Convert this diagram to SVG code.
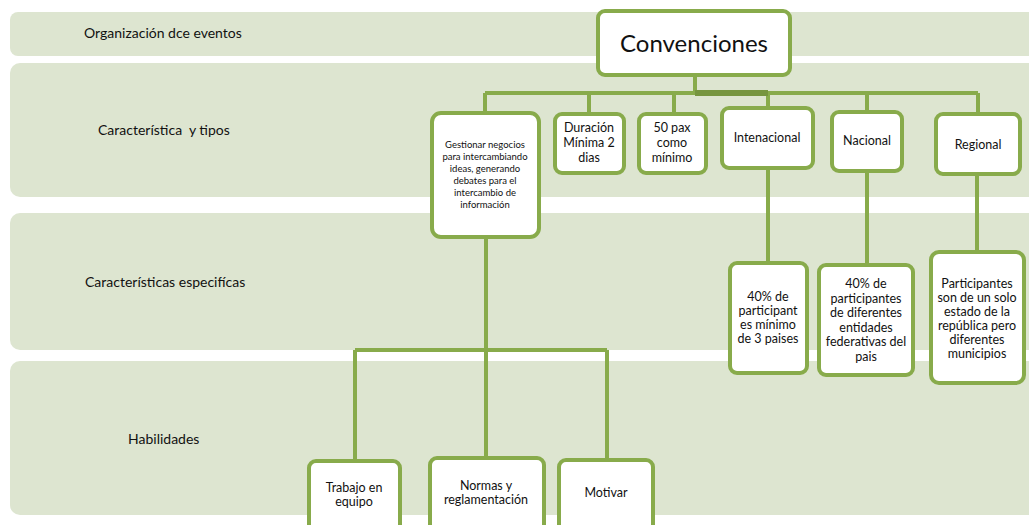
<svg xmlns="http://www.w3.org/2000/svg" width="1029" height="525" viewBox="0 0 1029 525">
<style>
.band{fill:#DDE5D0}
.lbl{font-family:Lato,"Liberation Sans",sans-serif;font-size:14px;fill:#111;white-space:pre}
.box{fill:#fff;stroke:#88AB4B;stroke-width:4}
.t{font-family:Lato,"Liberation Sans",sans-serif;font-size:12.5px;fill:#111;text-anchor:middle;dominant-baseline:central}
.ts{font-size:9.5px}
.c{stroke:#88AB4B;stroke-width:4;fill:none}
.cd{stroke:#76953F;stroke-width:6;fill:none}
</style>
<rect width="1029" height="525" fill="#fff"/>
<g id="bands">
<rect class="band" x="10" y="12" width="1040" height="44" rx="8"/>
<rect class="band" x="10" y="63" width="1040" height="134" rx="10"/>
<rect class="band" x="10" y="213" width="1040" height="137" rx="10"/>
<rect class="band" x="10" y="361" width="1040" height="154" rx="10"/>
<text class="lbl" x="84" y="38">Organización dce eventos</text>
<text class="lbl" x="98" y="135" xml:space="preserve">Característica  y tipos</text>
<text class="lbl" x="85" y="287">Características especifícas</text>
<text class="lbl" x="128" y="444">Habilidades</text>
</g>
<g id="connectors">
<path class="c" d="M695 76V93M485 93H978M485 93V112M589 93V113M674 93V113M768 93V107M867 93V111M978 93V113"/>
<path class="cd" d="M695 93H768"/>
<path class="c" d="M768 93H867" stroke-width="5"/>
<path class="c" d="M768 168V262M867 171V264M977 174V251"/>
<path class="c" d="M486 237V457M355 350H607M355 350V460M607 350V459"/>
</g>
<g id="n-convenciones">
<rect class="box" x="598" y="11" width="192" height="64" rx="7"/>
<text class="t" x="694" y="42" style="font-size:24px">Convenciones</text>
</g>
<g id="n-gestionar">
<rect class="box" x="432" y="113" width="107" height="124" rx="9"/>
<text class="t ts" x="485"><tspan x="485" y="144">Gestionar negocios</tspan><tspan x="485" y="156">para intercambiando</tspan><tspan x="485" y="168">ideas, generando</tspan><tspan x="485" y="180">debates para el</tspan><tspan x="485" y="192">intercambio de</tspan><tspan x="485" y="204">información</tspan></text>
</g>
<g id="n-duracion">
<rect class="box" x="555" y="114" width="69" height="59" rx="7"/>
<text class="t"><tspan x="589" y="127">Duración</tspan><tspan x="589" y="142">Mínima 2</tspan><tspan x="589" y="157">dias</tspan></text>
</g>
<g id="n-50pax">
<rect class="box" x="639" y="114" width="67" height="59" rx="7"/>
<text class="t"><tspan x="672" y="127">50 pax</tspan><tspan x="672" y="142">como</tspan><tspan x="672" y="157">mínimo</tspan></text>
</g>
<g id="n-internacional">
<rect class="box" x="722" y="108" width="91" height="60" rx="7"/>
<text class="t" x="767" y="137">Intenacional</text>
</g>
<g id="n-nacional">
<rect class="box" x="832" y="112" width="70" height="59" rx="7"/>
<text class="t" x="867" y="140">Nacional</text>
</g>
<g id="n-regional">
<rect class="box" x="936" y="114" width="84" height="60" rx="7"/>
<text class="t" x="978" y="144">Regional</text>
</g>
<g id="n-40int">
<rect class="box" x="730" y="263" width="77" height="110" rx="7"/>
<text class="t"><tspan x="768" y="296">40% de</tspan><tspan x="768" y="310">participant</tspan><tspan x="768" y="324">es mínimo</tspan><tspan x="768" y="338">de 3 paises</tspan></text>
</g>
<g id="n-40nac">
<rect class="box" x="819" y="265" width="94" height="110" rx="7"/>
<text class="t"><tspan x="866" y="283">40% de</tspan><tspan x="866" y="297.5">participantes</tspan><tspan x="866" y="312">de diferentes</tspan><tspan x="866" y="326.5">entidades</tspan><tspan x="866" y="341">federativas del</tspan><tspan x="866" y="355.5">pais</tspan></text>
</g>
<g id="n-participantes">
<rect class="box" x="931" y="252" width="93" height="131" rx="8"/>
<text class="t"><tspan x="977" y="283">Participantes</tspan><tspan x="977" y="297">son de un solo</tspan><tspan x="977" y="311">estado de la</tspan><tspan x="977" y="325">república pero</tspan><tspan x="977" y="339">diferentes</tspan><tspan x="977" y="353">municipios</tspan></text>
</g>
<g id="n-trabajo">
<rect class="box" x="309" y="461" width="91" height="80" rx="7"/>
<text class="t"><tspan x="354" y="487">Trabajo en</tspan><tspan x="354" y="501">equipo</tspan></text>
</g>
<g id="n-normas">
<rect class="box" x="430" y="458" width="114" height="80" rx="7"/>
<text class="t"><tspan x="486" y="485">Normas y</tspan><tspan x="486" y="499">reglamentación</tspan></text>
</g>
<g id="n-motivar">
<rect class="box" x="559" y="460" width="94" height="80" rx="7"/>
<text class="t" x="606" y="492">Motivar</text>
</g>
</svg>
